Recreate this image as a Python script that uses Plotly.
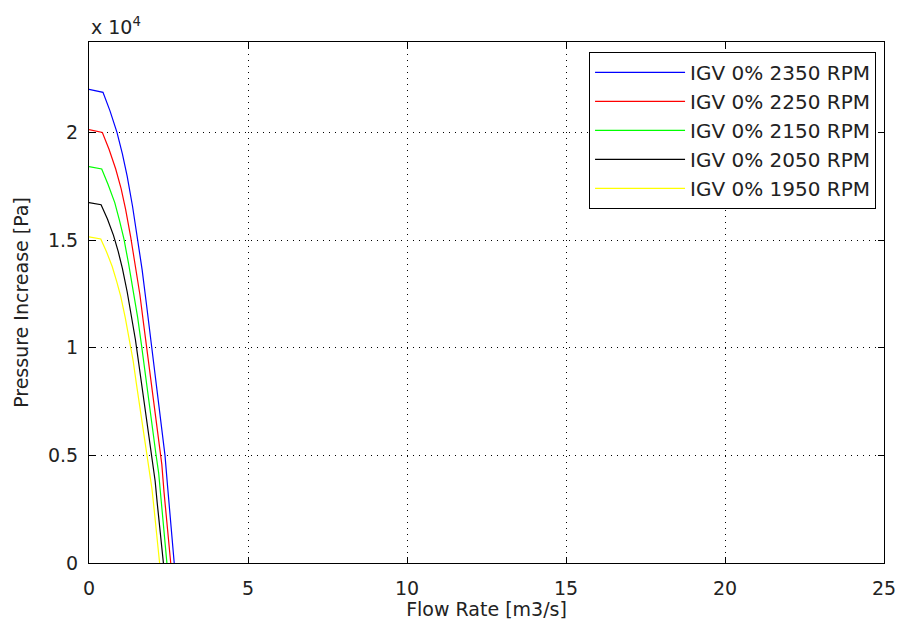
import plotly.graph_objects as go

# Flow rate [m3/s] and pressure increase [Pa]
q_2350 = [0, 0.44, 0.66, 0.88, 1.05, 1.20, 1.37, 1.54, 1.67, 1.80, 1.97, 2.10, 2.20, 2.30, 2.39, 2.47, 2.55, 2.62, 2.68]
p_2350 = [22000, 21860, 21000, 20000, 19000, 17970, 16560, 15000, 13630, 12100, 10000, 8550, 7300, 6100, 5000, 3580, 2100, 1000, 0]

q_2250 = [0, 0.42, 0.63, 0.84, 1.01, 1.15, 1.31, 1.47, 1.60, 1.72, 1.89, 2.01, 2.11, 2.20, 2.29, 2.36, 2.44, 2.51, 2.57]
p_2250 = [20130, 20000, 19220, 18300, 17390, 16440, 15150, 13730, 12470, 11070, 9150, 7820, 6680, 5580, 4580, 3280, 1920, 920, 0]

q_2150 = [0, 0.40, 0.60, 0.81, 0.96, 1.10, 1.25, 1.41, 1.53, 1.65, 1.80, 1.92, 2.01, 2.10, 2.19, 2.26, 2.33, 2.40, 2.45]
p_2150 = [18410, 18300, 17580, 16740, 15900, 15040, 13860, 12560, 11410, 10130, 8370, 7160, 6110, 5110, 4190, 3000, 1760, 840, 0]

q_2050 = [0, 0.38, 0.58, 0.77, 0.92, 1.05, 1.20, 1.34, 1.46, 1.57, 1.72, 1.83, 1.92, 2.01, 2.08, 2.15, 2.22, 2.29, 2.34]
p_2050 = [16740, 16640, 15980, 15220, 14460, 13680, 12600, 11420, 10370, 9210, 7610, 6510, 5560, 4640, 3810, 2720, 1600, 760, 0]

q_1950 = [0, 0.37, 0.55, 0.73, 0.87, 1.00, 1.14, 1.28, 1.39, 1.49, 1.63, 1.74, 1.83, 1.91, 1.98, 2.05, 2.12, 2.17, 2.22]
p_1950 = [15150, 15050, 14460, 13770, 13080, 12370, 11400, 10330, 9380, 8330, 6890, 5890, 5030, 4200, 3440, 2460, 1450, 690, 0]

series_names = ["IGV 0% 2350 RPM", "IGV 0% 2250 RPM", "IGV 0% 2150 RPM",
                "IGV 0% 2050 RPM", "IGV 0% 1950 RPM"]
series_q = [q_2350, q_2250, q_2150, q_2050, q_1950]
series_p = [p_2350, p_2250, p_2150, p_2050, p_1950]
series_colors = ["#0000ff", "#ff0000", "#00ff00", "#000000", "#ffff00"]

x_ticks = [0, 5, 10, 15, 20, 25]
y_ticks = [0, 5000, 10000, 15000, 20000]
y_tick_text = ["0", "0.5", "1", "1.5", "2"]

FONT = "DejaVu Sans"
TXT = "#222222"

fig = go.Figure()
for name, q, p, c in zip(series_names, series_q, series_p, series_colors):
    fig.add_trace(go.Scatter(x=q, y=p, mode="lines", name=name,
                             line=dict(color=c, width=1.2)))

axis_common = dict(
    showline=True, linecolor="black", linewidth=1, mirror="allticks",
    ticks="inside", ticklen=6, tickcolor="black",
    showgrid=True, gridcolor="#000000", gridwidth=1, griddash="1px,5px",
    zeroline=False, automargin=False,
    tickfont=dict(family=FONT, size=19, color=TXT),
)

fig.update_xaxes(range=[0, 25], tickvals=x_ticks,
                 title=dict(text="Flow Rate [m3/s]", standoff=6,
                            font=dict(family=FONT, size=19, color=TXT)),
                 ticklabelstandoff=8, **axis_common)
fig.update_yaxes(range=[0, 24200], tickvals=y_ticks, ticktext=y_tick_text,
                 title=dict(text="Pressure Increase [Pa]", standoff=14,
                            font=dict(family=FONT, size=19, color=TXT)),
                 ticklabelstandoff=6, **axis_common)

fig.add_annotation(xref="paper", yref="paper", x=0, y=1, xanchor="left",
                   yanchor="bottom", yshift=2, showarrow=False,
                   text="x 10<sup>4</sup>",
                   font=dict(family=FONT, size=19, color=TXT))

fig.update_layout(
    width=897, height=620,
    margin=dict(l=89, r=13, t=42, b=57),
    paper_bgcolor="white", plot_bgcolor="white",
    font=dict(family=FONT, size=19, color=TXT),
    showlegend=True,
    legend=dict(x=0.99, y=0.981, xanchor="right", yanchor="top",
                bgcolor="white", bordercolor="black", borderwidth=1,
                font=dict(family=FONT, size=20, color=TXT),
                tracegroupgap=0, itemwidth=90),
)

fig.write_html("out.html")
